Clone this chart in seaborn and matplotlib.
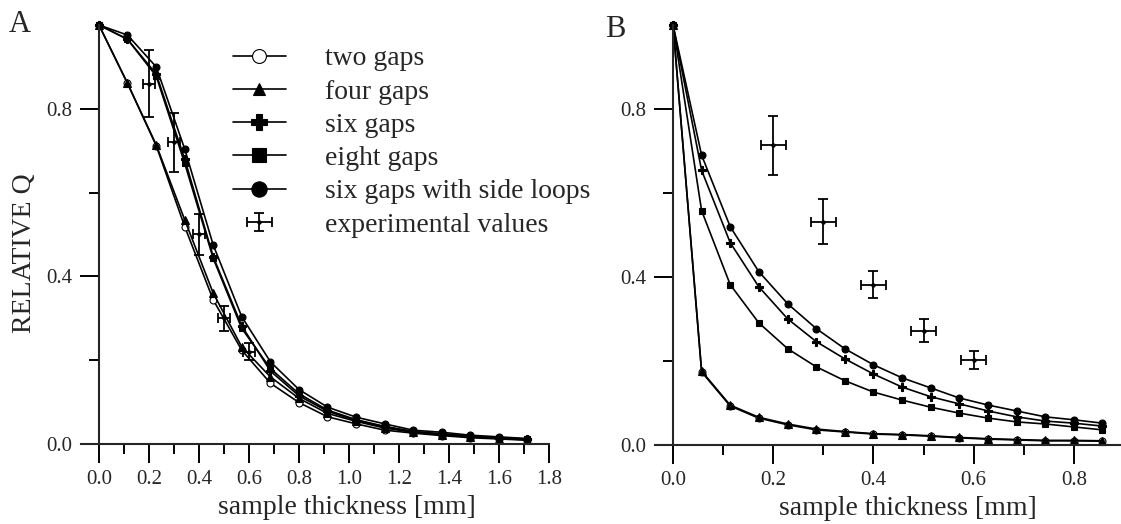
import numpy as np
import pandas as pd
import matplotlib
matplotlib.use('Agg')
import matplotlib.pyplot as plt
import seaborn as sns
from matplotlib.ticker import FormatStrFormatter
from matplotlib.container import ErrorbarContainer
from matplotlib.legend_handler import HandlerErrorbar

sns.set_style('ticks')
plt.rcParams['font.family'] = ['Liberation Serif', 'DejaVu Serif']

# panel A: resonator with gaps, thickness up to 1.7 mm
thick_a = [0.0, 0.114, 0.229, 0.343, 0.457, 0.571, 0.686, 0.8, 0.914, 1.029,
           1.143, 1.257, 1.371, 1.486, 1.6, 1.714]
two_a = [1.0, 0.861, 0.712, 0.519, 0.344, 0.224, 0.145, 0.099, 0.065, 0.048,
         0.033, 0.026, 0.020, 0.015, 0.012, 0.009]
four_a = [1.0, 0.861, 0.714, 0.535, 0.360, 0.232, 0.160, 0.109, 0.073, 0.054,
          0.038, 0.028, 0.022, 0.017, 0.013, 0.010]
six_a = [1.0, 0.966, 0.883, 0.680, 0.447, 0.282, 0.174, 0.115, 0.078, 0.056,
         0.041, 0.029, 0.024, 0.018, 0.015, 0.011]
eight_a = [1.0, 0.966, 0.878, 0.670, 0.443, 0.276, 0.180, 0.120, 0.081, 0.058,
           0.042, 0.030, 0.024, 0.019, 0.015, 0.012]
loops_a = [1.0, 0.976, 0.900, 0.704, 0.475, 0.304, 0.196, 0.130, 0.088, 0.064,
           0.048, 0.033, 0.028, 0.021, 0.017, 0.013]
exp_x_a = [0.2, 0.3, 0.4, 0.5, 0.6]
exp_y_a = [0.86, 0.72, 0.50, 0.30, 0.22]
exp_yerr_a = [0.08, 0.07, 0.05, 0.03, 0.02]
exp_xerr_a = [0.025, 0.025, 0.025, 0.025, 0.025]

# panel B
thick_b = [0.0, 0.057, 0.114, 0.171, 0.229, 0.286, 0.343, 0.4, 0.457, 0.514,
           0.571, 0.629, 0.686, 0.743, 0.8, 0.857]
two_b = [1.0, 0.174, 0.093, 0.064, 0.048, 0.036, 0.031, 0.026, 0.024, 0.021,
         0.017, 0.014, 0.012, 0.010, 0.010, 0.009]
four_b = [1.0, 0.176, 0.095, 0.066, 0.050, 0.038, 0.032, 0.027, 0.025, 0.022,
          0.018, 0.015, 0.013, 0.011, 0.011, 0.010]
six_b = [1.0, 0.654, 0.482, 0.377, 0.300, 0.246, 0.205, 0.169, 0.138, 0.115,
         0.098, 0.081, 0.067, 0.057, 0.052, 0.045]
eight_b = [1.0, 0.558, 0.382, 0.291, 0.229, 0.186, 0.153, 0.126, 0.107, 0.090,
           0.076, 0.064, 0.055, 0.050, 0.043, 0.036]
loops_b = [1.0, 0.690, 0.520, 0.413, 0.336, 0.277, 0.229, 0.191, 0.160, 0.136,
           0.112, 0.095, 0.081, 0.067, 0.060, 0.052]
exp_x_b = [0.2, 0.3, 0.4, 0.5, 0.6]
exp_y_b = [0.714, 0.532, 0.382, 0.272, 0.203]
exp_yerr_b = [0.07, 0.053, 0.032, 0.027, 0.022]
exp_xerr_b = [0.025, 0.025, 0.025, 0.025, 0.025]

labels = ['two gaps', 'four gaps', 'six gaps', 'eight gaps', 'six gaps with side loops']
markers = ['o', '^', 'P', 's', 'o']
facecolors = ['white', 'black', 'black', 'black', 'black']
small_sizes = [5, 5.5, 5.5, 5, 5]
legend_sizes = [10, 8.5, 11, 10.5, 11]

fig = plt.figure(figsize=(11.21, 5.24), dpi=100)
ax_a = fig.add_axes([80.7 / 1121, 80 / 524, 468.3 / 1121, 419 / 524])
ax_b = fig.add_axes([655 / 1121, 79 / 524, 466 / 1121, 420 / 524])


def draw_panel(ax, x, series, ex, ey, exerr, eyerr):
    lines = []
    for vals, lab, m, fc, ms in zip(series, labels, markers, facecolors, small_sizes):
        df = pd.DataFrame({'thickness': x, 'q': vals})
        sns.lineplot(data=df, x='thickness', y='q', ax=ax, color='black',
                     linewidth=1.2, marker=m, markersize=ms, markerfacecolor=fc,
                     markeredgecolor='black', markeredgewidth=0.8, errorbar=None,
                     clip_on=False, legend=False)
        line = ax.get_lines()[-1]
        line.set_label(lab)
        lines.append(line)
    eb = ax.errorbar(ex, ey, xerr=exerr, yerr=eyerr, fmt='o', color='black',
                     markersize=2.2, elinewidth=1.3, capsize=3.6, capthick=1.3,
                     label='experimental values')
    for sp in ['top', 'right']:
        ax.spines[sp].set_visible(False)
    ax.spines['left'].set_position(('data', 0))
    for sp in ['left', 'bottom']:
        ax.spines[sp].set_linewidth(1.5)
    ax.set_ylim(0, 1.0)
    ax.set_yticks([0.0, 0.4, 0.8])
    ax.set_yticks([0.2, 0.6], minor=True)
    ax.yaxis.set_major_formatter(FormatStrFormatter('%.1f'))
    ax.xaxis.set_major_formatter(FormatStrFormatter('%.1f'))
    ax.tick_params(which='major', length=14, width=1.4, direction='out',
                   labelsize=15, pad=5, color='black')
    ax.tick_params(which='minor', length=7, width=1.4, direction='out', color='black')
    ax.set_xlabel('sample thickness [mm]', fontsize=20)
    ax.set_ylabel('')
    return lines, eb


lines_a, eb_a = draw_panel(ax_a, thick_a, [two_a, four_a, six_a, eight_a, loops_a],
                           exp_x_a, exp_y_a, exp_xerr_a, exp_yerr_a)
ax_a.set_xlim(-0.073, 1.8)
ax_a.set_xticks(np.arange(0, 1.81, 0.2))
ax_a.set_xticks(np.arange(0.1, 1.8, 0.2), minor=True)
ax_a.set_ylabel('RELATIVE Q', fontsize=20)
ax_a.yaxis.set_label_coords(-0.094, 0.456)
ax_a.xaxis.set_label_coords(0.568, -0.122)

lines_b, eb_b = draw_panel(ax_b, thick_b, [two_b, four_b, six_b, eight_b, loops_b],
                           exp_x_b, exp_y_b, exp_xerr_b, exp_yerr_b)
ax_b.set_xlim(-0.036, 0.894)
ax_b.set_xticks(np.arange(0, 0.81, 0.2))
ax_b.set_xticks(np.arange(0.1, 0.9, 0.2), minor=True)
ax_b.xaxis.set_label_coords(0.542, -0.122)
if ax_b.get_legend() is not None:
    ax_b.get_legend().remove()

leg = ax_a.legend(handles=lines_a + [eb_a], loc='upper left',
                  bbox_to_anchor=(233 / 1121, 1 - 46 / 524),
                  bbox_transform=fig.transFigure, frameon=False, fontsize=20,
                  borderpad=0, borderaxespad=0, handlelength=1.9,
                  handletextpad=1.4, labelspacing=0.28,
                  handler_map={ErrorbarContainer: HandlerErrorbar(xerr_size=0.45, yerr_size=0.33)})
for h, ms in zip(leg.legend_handles[:5], legend_sizes):
    h.set_markersize(ms)

fig.text(9 / 1121, 1 - 32 / 524, 'A', fontsize=22, ha='left', va='baseline')
fig.text(605 / 1121, 1 - 37 / 524, 'B', fontsize=22, ha='left', va='baseline')

fig.savefig('out.png', dpi=100)
